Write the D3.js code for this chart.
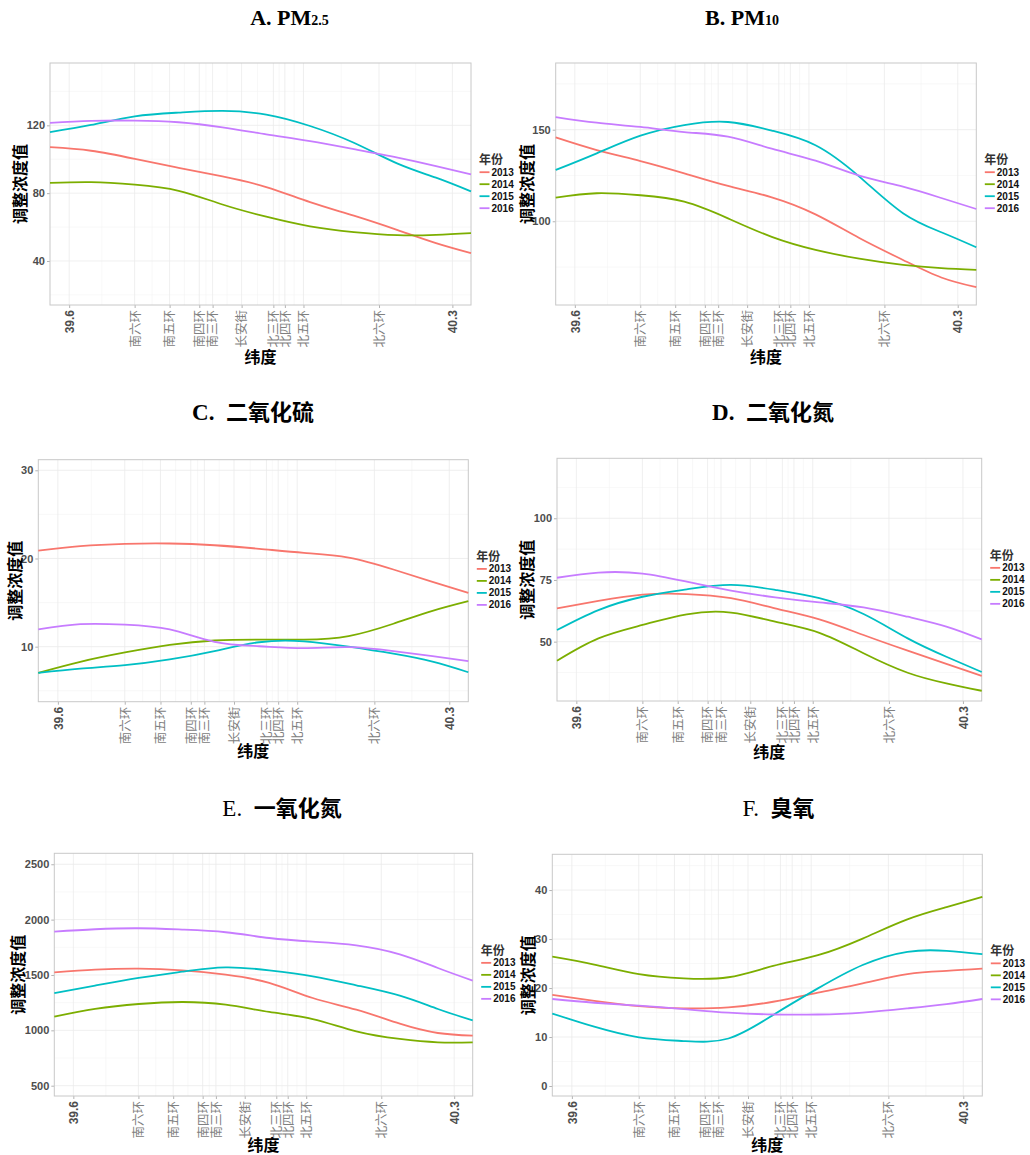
<!DOCTYPE html>
<html>
<head>
<meta charset="utf-8">
<script src="https://cdn.jsdelivr.net/npm/d3@7"></script>
<style>
  body { margin: 0; background: #fff; }
  svg { display: block; }
</style>
</head>
<body>
<div id="chart"></div>
<script>
var sampleLat = [39.565, 39.64, 39.72, 39.80, 39.88, 39.96, 40.04, 40.12, 40.20, 40.27, 40.334];
var years = ['2013', '2014', '2015', '2016'];
var yearColours = ['#F8766D', '#7CAE00', '#00BFC4', '#C77CFF'];

// x axis breaks (latitude of ring roads) and their labels
var breakLat = [39.6, 39.7196, 39.7835, 39.8377, 39.862, 39.915, 39.973, 39.994, 40.028, 40.166, 40.3];
var breakLabels = ['39.6', '南六环', '南五环', '南四环', '南三环', '长安街', '北三环', '北四环', '北五环', '北六环', '40.3'];

// one row per year: 2013, 2014, 2015, 2016
var pm25 = [
  [107.1, 105, 100.2, 94.9, 89.9, 83.6, 74.7, 66.7, 58.2, 50.5, 44.6],
  [86, 86.5, 85, 81.4, 73.3, 66.1, 60.4, 57, 55.2, 55.4, 56.4],
  [116, 120.2, 125.3, 127.5, 128.5, 126.3, 119.6, 109.7, 97.4, 89.1, 81],
  [121.4, 122.6, 122.8, 121.8, 118.8, 114.7, 110.7, 106, 101, 96, 91]
];
var pm10 = [
  [145.8, 138.9, 132.9, 126.2, 119.3, 113.1, 103.8, 90.9, 78.9, 69.3, 64],
  [112.9, 115.3, 114.2, 110.7, 101.6, 91.5, 84.4, 79.6, 76.2, 74.4, 73.5],
  [128, 137.1, 146.7, 152.5, 154.2, 149.5, 141.5, 124.4, 104.4, 94, 85.8],
  [156.9, 153.8, 151.5, 148.7, 146.2, 139.6, 133.1, 124.9, 118.9, 112.7, 106.7]
];
var so2 = [
  [20.9, 21.4, 21.66, 21.7, 21.5, 21.1, 20.64, 20.1, 18.75, 17.35, 16.1],
  [7.03, 8.28, 9.34, 10.2, 10.7, 10.8, 10.8, 11.2, 12.6, 14.06, 15.16],
  [7.03, 7.5, 7.9, 8.55, 9.5, 10.5, 10.6, 10, 9.2, 8.3, 7.1],
  [11.95, 12.55, 12.5, 11.95, 10.55, 10.05, 9.83, 9.94, 9.5, 8.92, 8.36]
];
var no2 = [
  [63.5, 66.5, 69.05, 69.3, 67.6, 63.5, 59.05, 52.7, 46.35, 41, 36.1],
  [42.3, 51.35, 56.8, 61.1, 61.8, 58.1, 53.6, 45.3, 37.4, 33.1, 30.1],
  [54.7, 62.8, 68.2, 71.2, 73, 71, 67.6, 61.2, 51.35, 43.9, 37.7],
  [75.9, 78, 77.6, 74.3, 70.7, 67.97, 65.9, 63.9, 60.1, 56.1, 50.9]
];
var no = [
  [1524, 1548, 1557, 1542, 1503, 1428, 1292, 1187, 1060, 976, 952],
  [1123, 1193, 1238, 1256, 1232, 1166, 1102, 991, 922, 892, 892],
  [1337, 1404, 1473, 1530, 1569, 1542, 1488, 1407, 1313, 1193, 1090],
  [1892, 1913, 1922, 1910, 1886, 1834, 1801, 1768, 1687, 1563, 1449]
];
var o3 = [
  [18.6, 17.4, 16.3, 15.85, 16.05, 17.2, 19.05, 20.95, 22.85, 23.5, 23.95],
  [26.4, 24.8, 22.85, 21.97, 22.2, 24.5, 26.7, 30.1, 34, 36.5, 38.6],
  [14.8, 12.1, 9.93, 9.18, 9.7, 14.5, 19.93, 24.7, 27.4, 27.6, 26.9],
  [17.76, 17, 16.4, 15.7, 14.97, 14.6, 14.6, 15, 15.85, 16.73, 17.76]
];

// y ticks for each panel
var pm25Ticks = [40, 80, 120],        pm25Minor = [20, 60, 100, 140];
var pm10Ticks = [100, 150],           pm10Minor = [75, 125, 175];
var so2Ticks = [10, 20, 30],          so2Minor = [5, 15, 25];
var no2Ticks = [50, 75, 100],         no2Minor = [37.5, 62.5, 87.5, 112.5];
var noTicks = [500, 1000, 1500, 2000, 2500], noMinor = [750, 1250, 1750, 2250];
var o3Ticks = [0, 10, 20, 30, 40],    o3Minor = [5, 15, 25, 35, 45];

var cjk = '"Noto Sans CJK SC", sans-serif';
var sans = '"Liberation Sans", Arial, sans-serif';
var serif = '"Liberation Serif", "Times New Roman", serif';
var gap = '\u00a0\u00a0';

var svg = d3.select('#chart')
            .append('svg')
            .attr('width', 1030)
            .attr('height', 1155);

var panels = [
  {values: pm25, ticks: pm25Ticks, minor: pm25Minor, left: 50, right: 471, top: 63, bottom: 305,
   yDomain: [14.04, 156.75], ylabX: 20, xlabY: 357, titleX: 289.5, titleY: 24.5,
   title: [['A. PM', serif, 'bold', 22], ['2.5', serif, 'bold', 14]]},
  {values: pm10, ticks: pm10Ticks, minor: pm10Minor, left: 555.7, right: 976.3, top: 63, bottom: 305,
   yDomain: [54.3, 186.4], ylabX: 527.3, xlabY: 357, titleX: 742, titleY: 24.5,
   title: [['B. PM', serif, 'bold', 22], ['10', serif, 'bold', 14]]},
  {values: so2, ticks: so2Ticks, minor: so2Minor, left: 38.3, right: 468.3, top: 459.7, bottom: 701.7,
   yDomain: [3.76, 31.2], ylabX: 15, xlabY: 751.7, titleX: 253, titleY: 420,
   title: [['C.' + gap, serif, 'bold', 23], ['二氧化硫', cjk, 'bold', 22]]},
  {values: no2, ticks: no2Ticks, minor: no2Minor, left: 557, right: 981.7, top: 458.3, bottom: 701,
   yDomain: [25.96, 124.3], ylabX: 527.7, xlabY: 752, titleX: 773, titleY: 420,
   title: [['D.' + gap, serif, 'bold', 23], ['二氧化氮', cjk, 'bold', 22]]},
  {values: no, ticks: noTicks, minor: noMinor, left: 54.3, right: 472.7, top: 853.3, bottom: 1096,
   yDomain: [407, 2599], ylabX: 18, xlabY: 1145, titleX: 282, titleY: 816,
   title: [['E.' + gap, serif, 'normal', 23], ['一氧化氮', cjk, 'bold', 22]]},
  {values: o3, ticks: o3Ticks, minor: o3Minor, left: 552.3, right: 982.3, top: 854.3, bottom: 1096,
   yDomain: [-2.04, 47.3], ylabX: 528, xlabY: 1145, titleX: 778.5, titleY: 816,
   title: [['F.' + gap, serif, 'normal', 23], ['臭氧', cjk, 'bold', 22]]}
];

panels.forEach(drawPanel);

function drawPanel(p) {
  var x = d3.scaleLinear().domain([39.565, 40.334]).range([p.left, p.right]);
  var y = d3.scaleLinear().domain(p.yDomain).range([p.bottom, p.top]);
  var g = svg.append('g');

  // grid lines (minor ones sit half way between breaks)
  var minorLat = d3.pairs(breakLat).map(function(d) { return (d[0] + d[1]) / 2; });
  g.selectAll('.vminor').data(minorLat).enter().append('line')
    .attr('x1', x).attr('x2', x).attr('y1', p.top).attr('y2', p.bottom)
    .attr('stroke', '#f3f3f3').attr('stroke-width', 0.6);
  g.selectAll('.hminor').data(p.minor.filter(function(v) { return y(v) > p.top && y(v) < p.bottom; }))
    .enter().append('line')
    .attr('x1', p.left).attr('x2', p.right).attr('y1', y).attr('y2', y)
    .attr('stroke', '#f3f3f3').attr('stroke-width', 0.6);
  g.selectAll('.vmajor').data(breakLat).enter().append('line')
    .attr('x1', x).attr('x2', x).attr('y1', p.top).attr('y2', p.bottom)
    .attr('stroke', '#ebebeb').attr('stroke-width', 0.8);
  g.selectAll('.hmajor').data(p.ticks).enter().append('line')
    .attr('x1', p.left).attr('x2', p.right).attr('y1', y).attr('y2', y)
    .attr('stroke', '#ebebeb').attr('stroke-width', 0.8);

  // axes
  var xAxis = d3.axisBottom(x)
                .tickValues(breakLat)
                .tickFormat(function(d, i) { return breakLabels[i]; })
                .tickSizeInner(3)
                .tickSizeOuter(0);
  var gx = g.append('g')
            .attr('transform', 'translate(0,' + p.bottom + ')')
            .call(xAxis);
  gx.select('.domain').remove();
  gx.selectAll('line').attr('stroke', '#b3b3b3');
  gx.selectAll('text')
    .attr('transform', 'rotate(-90)')
    .attr('x', -5)
    .attr('y', 0)
    .attr('dy', '0.35em')
    .attr('text-anchor', 'end')
    .each(function(d, i) {
      var numeric = i === 0 || i === breakLat.length - 1;
      d3.select(this)
        .attr('font-family', numeric ? sans : cjk)
        .attr('font-weight', numeric ? 'bold' : 'normal')
        .attr('font-size', numeric ? 12 : 12.5)
        .attr('fill', numeric ? '#4d4d4d' : '#808080');
    });

  var yAxis = d3.axisLeft(y)
                .tickValues(p.ticks)
                .tickFormat(d3.format('d'))
                .tickSizeInner(3)
                .tickSizeOuter(0)
                .tickPadding(2);
  var gy = g.append('g')
            .attr('transform', 'translate(' + p.left + ',0)')
            .call(yAxis);
  gy.select('.domain').remove();
  gy.selectAll('line').attr('stroke', '#b3b3b3');
  gy.selectAll('text')
    .attr('font-family', sans)
    .attr('font-weight', 'bold')
    .attr('font-size', 11)
    .attr('fill', '#4d4d4d');

  // panel border
  g.append('rect')
    .attr('x', p.left).attr('y', p.top)
    .attr('width', p.right - p.left).attr('height', p.bottom - p.top)
    .attr('fill', 'none').attr('stroke', '#c8c8c8').attr('stroke-width', 1);

  // smoothed lines, one per year
  var line = d3.line()
               .x(function(d, i) { return x(sampleLat[i]); })
               .y(function(d) { return y(d); })
               .curve(d3.curveNatural);
  g.selectAll('.year-line')
    .data(p.values)
    .enter()
    .append('path')
    .attr('d', line)
    .attr('fill', 'none')
    .attr('stroke', function(d, i) { return yearColours[i]; })
    .attr('stroke-width', 1.8);

  // axis titles
  g.append('text')
    .attr('transform', 'translate(' + p.ylabX + ',' + ((p.top + p.bottom) / 2) + ') rotate(-90)')
    .attr('text-anchor', 'middle')
    .attr('dy', '0.35em')
    .attr('font-family', cjk)
    .attr('font-weight', 'bold')
    .attr('font-size', 16)
    .text('调整浓度值');
  g.append('text')
    .attr('x', (p.left + p.right) / 2)
    .attr('y', p.xlabY)
    .attr('dy', '0.35em')
    .attr('text-anchor', 'middle')
    .attr('font-family', cjk)
    .attr('font-weight', 'bold')
    .attr('font-size', 16)
    .text('纬度');

  // legend, centred on the panel
  var lx = p.right + 8,
      ly = (p.top + p.bottom) / 2 - 24;
  var legend = g.append('g').attr('transform', 'translate(' + lx + ',' + ly + ')');
  legend.append('text')
        .attr('x', 0).attr('y', 0)
        .attr('dy', '0.35em')
        .attr('font-family', cjk)
        .attr('font-weight', 'bold')
        .attr('font-size', 12)
        .attr('fill', '#333')
        .text('年份');
  var keys = legend.selectAll('.key')
                   .data(years)
                   .enter()
                   .append('g')
                   .attr('transform', function(d, i) { return 'translate(0,' + (12.2 + i * 12) + ')'; });
  keys.append('line')
      .attr('x1', 0.5).attr('x2', 10.5)
      .attr('stroke', function(d, i) { return yearColours[i]; })
      .attr('stroke-width', 1.8);
  keys.append('text')
      .attr('x', 12.5)
      .attr('dy', '0.35em')
      .attr('font-family', sans)
      .attr('font-weight', 'bold')
      .attr('font-size', 10)
      .attr('fill', '#111')
      .text(function(d) { return d; });

  // panel title
  var t = svg.append('text')
             .attr('x', p.titleX)
             .attr('y', p.titleY)
             .attr('text-anchor', 'middle');
  p.title.forEach(function(part) {
    t.append('tspan')
     .attr('font-family', part[1])
     .attr('font-weight', part[2])
     .attr('font-size', part[3])
     .text(part[0]);
  });
}
</script>
</body>
</html>
